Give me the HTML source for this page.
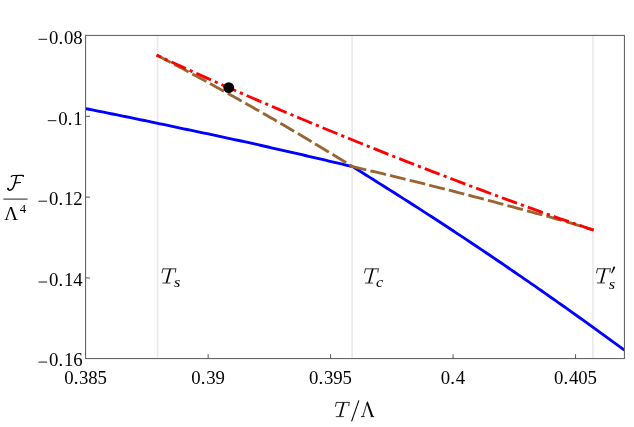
<!DOCTYPE html>
<html><head><meta charset="utf-8"><title>Free energy</title>
<style>
html,body{margin:0;padding:0;background:#fff;}
body{width:634px;height:427px;overflow:hidden;font-family:"Liberation Serif",serif;}
svg{display:block;}
text{font-family:"Liberation Serif",serif;fill:#000;}
.gs{will-change:transform;}
.tk text{font-size:18.8px;}
.it{font-style:italic;}
</style></head><body>
<svg width="634" height="427" viewBox="0 0 634 427">
<defs>
<g id="gT" fill="none" stroke="#000">
<path d="M2.5 -14.65 L15.4 -14.65" stroke-width="0.8"/>
<path d="M2.55 -15.05 L1.45 -10.2" stroke-width="0.8"/>
<path d="M15.4 -15.05 L14.8 -11.0" stroke-width="0.8"/>
<path d="M9.75 -14.6 L6.0 -0.7" stroke-width="1.65"/>
<path d="M1.9 -0.45 L10.0 -0.45" stroke-width="0.75"/>
</g>
</defs>
<rect width="634" height="427" fill="#fff"/>
<g stroke="#e9e9e9" stroke-width="1.6">
<line x1="157.55" y1="35.45" x2="157.55" y2="358.55"/>
<line x1="352.1" y1="35.45" x2="352.1" y2="358.55"/>
<line x1="592.9" y1="35.45" x2="592.9" y2="358.55"/>
</g>
<g fill="none" stroke-linejoin="round">
<path d="M85.55 108.59 L88.93 109.26 L92.31 109.93 L95.69 110.60 L99.07 111.28 L102.45 111.95 L105.83 112.63 L109.21 113.31 L112.59 113.99 L115.97 114.68 L119.35 115.37 L122.73 116.05 L126.11 116.75 L129.49 117.44 L132.87 118.13 L136.25 118.83 L139.63 119.53 L143.01 120.23 L146.39 120.94 L149.77 121.64 L153.15 122.35 L156.53 123.06 L159.91 123.77 L163.29 124.48 L166.67 125.20 L170.05 125.92 L173.43 126.64 L176.81 127.36 L180.19 128.08 L183.57 128.78 L186.95 129.48 L190.33 130.19 L193.71 130.89 L197.09 131.60 L200.47 132.31 L203.85 133.02 L207.23 133.73 L210.61 134.45 L213.99 135.17 L217.37 135.89 L220.75 136.61 L224.13 137.33 L227.51 138.06 L230.89 138.79 L234.27 139.52 L237.65 140.25 L241.03 140.99 L244.41 141.73 L247.79 142.48 L251.17 143.23 L254.55 143.98 L257.93 144.73 L261.31 145.49 L264.69 146.24 L268.07 147.00 L271.45 147.77 L274.83 148.53 L278.21 149.30 L281.59 150.06 L284.97 150.83 L288.35 151.60 L291.73 152.38 L295.11 153.16 L298.49 153.93 L301.87 154.71 L305.25 155.50 L308.63 156.28 L312.01 157.07 L315.39 157.85 L318.77 158.65 L322.15 159.44 L325.53 160.23 L328.91 161.03 L332.29 161.83 L335.67 162.63 L339.05 163.43 L342.43 164.22 L345.81 165.02 L349.19 165.82 L352.57 166.62 L352.57 166.62 L356.01 168.76 L359.45 170.90 L362.90 173.04 L366.34 175.19 L369.78 177.35 L373.22 179.51 L376.66 181.67 L380.10 183.85 L383.54 186.02 L386.99 188.20 L390.43 190.39 L393.87 192.56 L397.31 194.74 L400.75 196.92 L404.19 199.11 L407.64 201.31 L411.08 203.51 L414.52 205.71 L417.96 207.92 L421.40 210.14 L424.84 212.36 L428.28 214.58 L431.73 216.82 L435.17 219.05 L438.61 221.29 L442.05 223.54 L445.49 225.79 L448.93 228.05 L452.37 230.31 L455.82 232.58 L459.26 234.86 L462.70 237.14 L466.14 239.42 L469.58 241.71 L473.02 244.00 L476.47 246.30 L479.91 248.61 L483.35 250.92 L486.79 253.23 L490.23 255.55 L493.67 257.88 L497.11 260.21 L500.56 262.55 L504.00 264.89 L507.44 267.24 L510.88 269.59 L514.32 271.95 L517.76 274.31 L521.20 276.68 L524.65 279.05 L528.09 281.43 L531.53 283.81 L534.97 286.20 L538.41 288.59 L541.85 290.99 L545.30 293.40 L548.74 295.81 L552.18 298.22 L555.62 300.64 L559.06 303.07 L562.50 305.50 L565.94 307.93 L569.39 310.37 L572.83 312.82 L576.27 315.27 L579.71 317.73 L583.15 320.19 L586.59 322.66 L590.03 325.13 L593.48 327.61 L596.92 330.09 L600.36 332.58 L603.80 335.07 L607.24 337.57 L610.68 340.08 L614.13 342.58 L617.57 345.10 L621.01 347.62 L624.45 350.14" stroke="#0000ff" stroke-width="2.85"/>
<path d="M156.60 55.03 L159.08 56.32 L161.56 57.61 L164.04 58.91 L166.52 60.20 L169.00 61.50 L171.48 62.80 L173.96 64.11 L176.45 65.41 L178.93 66.72 L181.41 68.03 L183.89 69.35 L186.37 70.67 L188.85 72.01 L191.33 73.35 L193.81 74.69 L196.29 76.04 L198.77 77.39 L201.25 78.74 L203.73 80.09 L206.21 81.45 L208.69 82.80 L211.17 84.17 L213.65 85.53 L216.14 86.90 L218.62 88.27 L221.10 89.64 L223.58 91.01 L226.06 92.39 L228.54 93.77 L231.02 95.15 L233.50 96.54 L235.98 97.93 L238.46 99.32 L240.94 100.71 L243.42 102.11 L245.90 103.51 L248.38 104.91 L250.86 106.32 L253.35 107.73 L255.83 109.14 L258.31 110.55 L260.79 111.97 L263.27 113.39 L265.75 114.81 L268.23 116.23 L270.71 117.66 L273.19 119.09 L275.67 120.52 L278.15 121.96 L280.63 123.40 L283.11 124.85 L285.59 126.30 L288.07 127.75 L290.55 129.21 L293.04 130.67 L295.52 132.13 L298.00 133.60 L300.48 135.07 L302.96 136.54 L305.44 138.02 L307.92 139.49 L310.40 140.97 L312.88 142.45 L315.36 143.94 L317.84 145.43 L320.32 146.92 L322.80 148.41 L325.28 149.91 L327.76 151.41 L330.25 152.91 L332.73 154.41 L335.21 155.92 L337.69 157.43 L340.17 158.94 L342.65 160.46 L345.13 161.98 L347.61 163.52 L350.09 165.07 L352.57 166.62" stroke="#996633" stroke-width="2.85" stroke-dasharray="16 4.2"/>
<path d="M350.70 166.18 L353.77 166.91 L356.85 167.62 L359.92 168.35 L363.00 169.07 L366.07 169.79 L369.15 170.52 L372.22 171.25 L375.30 171.98 L378.37 172.71 L381.45 173.44 L384.52 174.18 L387.60 174.91 L390.67 175.65 L393.75 176.39 L396.82 177.13 L399.89 177.88 L402.97 178.63 L406.04 179.39 L409.12 180.15 L412.19 180.91 L415.27 181.67 L418.34 182.43 L421.42 183.20 L424.49 183.97 L427.57 184.73 L430.64 185.51 L433.72 186.28 L436.79 187.05 L439.87 187.83 L442.94 188.60 L446.02 189.38 L449.09 190.16 L452.16 190.95 L455.24 191.75 L458.31 192.55 L461.39 193.34 L464.46 194.14 L467.54 194.95 L470.61 195.75 L473.69 196.55 L476.76 197.36 L479.84 198.17 L482.91 198.98 L485.99 199.79 L489.06 200.61 L492.14 201.42 L495.21 202.24 L498.28 203.06 L501.36 203.88 L504.43 204.70 L507.51 205.52 L510.58 206.35 L513.66 207.18 L516.73 208.01 L519.81 208.84 L522.88 209.67 L525.96 210.50 L529.03 211.34 L532.11 212.18 L535.18 213.02 L538.26 213.86 L541.33 214.70 L544.41 215.54 L547.48 216.39 L550.55 217.24 L553.63 218.13 L556.70 219.02 L559.78 219.90 L562.85 220.79 L565.93 221.69 L569.00 222.58 L572.08 223.48 L575.15 224.37 L578.23 225.30 L581.30 226.23 L584.38 227.16 L587.45 228.10 L590.53 229.03 L593.60 229.97" stroke="#996633" stroke-width="2.85" stroke-dasharray="16 4.2"/>
<path d="M156.60 55.14 L162.13 57.69 L167.66 60.24 L173.19 62.79 L178.73 65.32 L184.26 67.85 L189.79 70.36 L195.32 72.86 L200.85 75.36 L206.38 77.85 L211.92 80.33 L217.45 82.78 L222.98 85.21 L228.51 87.64 L234.04 90.05 L239.57 92.46 L245.11 94.85 L250.64 97.25 L256.17 99.63 L261.70 102.01 L267.23 104.39 L272.76 106.76 L278.30 109.12 L283.83 111.47 L289.36 113.82 L294.89 116.16 L300.42 118.48 L305.95 120.80 L311.49 123.10 L317.02 125.39 L322.55 127.68 L328.08 129.96 L333.61 132.24 L339.14 134.50 L344.68 136.76 L350.21 139.01 L355.74 141.25 L361.27 143.48 L366.80 145.71 L372.33 147.92 L377.87 150.13 L383.40 152.34 L388.93 154.53 L394.46 156.72 L399.99 158.89 L405.52 161.06 L411.06 163.23 L416.59 165.38 L422.12 167.53 L427.65 169.67 L433.18 171.80 L438.71 173.92 L444.25 176.04 L449.78 178.15 L455.31 180.26 L460.84 182.36 L466.37 184.45 L471.90 186.54 L477.44 188.62 L482.97 190.69 L488.50 192.75 L494.03 194.80 L499.56 196.85 L505.09 198.89 L510.63 200.92 L516.16 202.94 L521.69 204.96 L527.22 206.96 L532.75 208.96 L538.28 210.96 L543.82 212.94 L549.35 214.92 L554.88 216.85 L560.41 218.78 L565.94 220.69 L571.47 222.60 L577.01 224.50 L582.54 226.39 L588.07 228.28 L593.60 230.15" stroke="#ff0000" stroke-width="2.85" stroke-dasharray="16 4.15 3.2 4.15" stroke-dashoffset="11.3"/>
</g>
<circle cx="228.75" cy="87.6" r="5.4" fill="#000"/>
<rect x="85.55" y="35.45" width="538.90" height="323.10" fill="none" stroke="#666" stroke-width="1.1"/>
<g stroke="#444" stroke-width="0.9"><line x1="208.13" y1="358.6" x2="208.13" y2="354.2"/><line x1="330.60" y1="358.6" x2="330.60" y2="354.2"/><line x1="453.08" y1="358.6" x2="453.08" y2="354.2"/><line x1="575.56" y1="358.6" x2="575.56" y2="354.2"/><line x1="85.5" y1="116.38" x2="90.0" y2="116.38"/><line x1="85.5" y1="197.15" x2="90.0" y2="197.15"/><line x1="85.5" y1="277.93" x2="90.0" y2="277.93"/></g>
<g class="gs">
<g class="tk"><text x="64.15 73.65 79.05 88.30 97.55" y="384.35">0.385</text><text x="191.25 200.75 206.15 215.40" y="384.35">0.39</text><text x="309.10 318.60 324.00 333.25 342.50" y="384.35">0.395</text><text x="440.83 450.33 455.73" y="384.35">0.4</text><text x="554.06 563.56 568.96 578.21 587.46" y="384.35">0.405</text><text x="49.02 58.52 63.92 73.17" y="43.55">0.08</text><text x="58.27 67.78 73.17" y="124.93">0.1</text><text x="49.02 58.52 63.92 73.17" y="205.45">0.12</text><text x="49.02 58.52 63.92 73.17" y="286.28">0.14</text><text x="49.02 58.52 63.92 73.17" y="366.35">0.16</text></g>
<g stroke="#000" stroke-width="0.9"><line x1="38.50" y1="39.30" x2="47.10" y2="39.30"/><line x1="47.75" y1="120.68" x2="56.35" y2="120.68"/><line x1="38.50" y1="201.20" x2="47.10" y2="201.20"/><line x1="38.50" y1="282.03" x2="47.10" y2="282.03"/><line x1="38.50" y1="362.10" x2="47.10" y2="362.10"/></g>
<use href="#gT" x="333.9" y="417.05"/>
<use href="#gT" x="160.5" y="283.5"/>
<use href="#gT" x="363.0" y="283.5"/>
<use href="#gT" x="595.0" y="283.4"/>
<line x1="358.9" y1="400.4" x2="351.6" y2="421.4" stroke="#000" stroke-width="1.1"/>
<path d="M361 416.6 L364.6 416.6 M370.6 416.6 L374.2 416.6" stroke="#000" stroke-width="0.9" fill="none"/>
<path d="M362.9 416.4 L367.25 402.2" stroke="#000" stroke-width="0.8" fill="none"/>
<path d="M366.6 403.2 L367.45 400.9 L368.3 402.8 L373.3 416.6 L371.1 416.6 Z" fill="#000"/>
<g class="it" font-size="14.4">
<text transform="translate(173.9 286.6) scale(1.13 1)">s</text>
<text transform="translate(376 286.6) scale(1.13 1)">c</text>
<text transform="translate(608.8 288.5) scale(1.13 1)">s</text>
</g>
<path d="M613.5 266.7 C614.2 266.3 615.3 266.9 615.1 267.7 L611.9 273.4 L611.2 273.1 Z" fill="#000"/>
<!-- F / Lambda^4 -->
<path d="M8.1 188.9 C8.8 190.9 11.6 190.6 13.2 187.6 C15.0 184.2 15.8 180 16.6 175.8" fill="none" stroke="#000" stroke-width="1.45" stroke-linecap="round"/>
<circle cx="8.0" cy="188.7" r="1.0" fill="#000"/>
<path d="M11.1 176.7 C11.7 175.7 12.7 175.5 14 175.5 L22.4 175.35 C23.1 175.35 23.5 175.7 23.4 176.1" fill="none" stroke="#000" stroke-width="1.15" stroke-linecap="round"/>
<circle cx="23.2" cy="176.0" r="0.85" fill="#000"/>
<path d="M15.3 182.85 L20.5 182.5" fill="none" stroke="#000" stroke-width="1.15" stroke-linecap="round"/>
<line x1="3.4" y1="199.1" x2="27.6" y2="199.1" stroke="#222" stroke-width="1"/>
<text x="4.2" y="219.5" font-size="19">Λ</text>
<text x="19.7" y="213.4" font-size="12.8">4</text>
</g>
</svg>
</body></html>
